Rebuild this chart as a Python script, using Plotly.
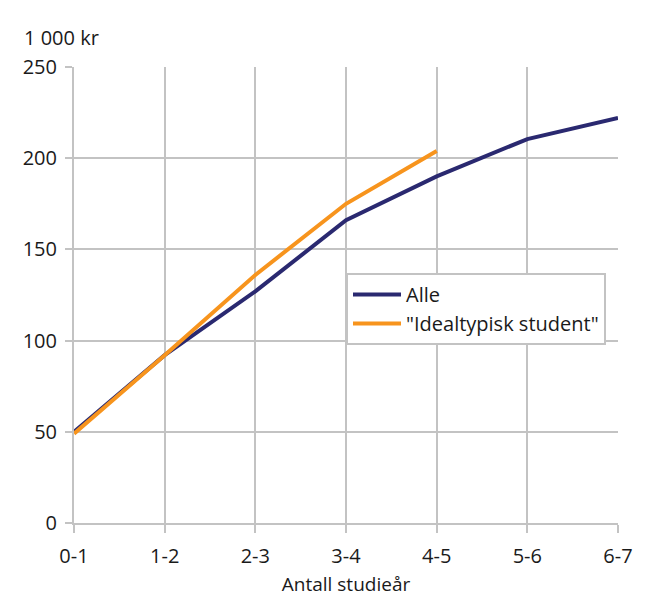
import plotly.graph_objects as go

categories = ["0-1", "1-2", "2-3", "3-4", "4-5", "5-6", "6-7"]
alle = [50, 92, 127, 166, 190, 210.5, 222]
ideal = [49, 92, 136, 175, 204]
y_ticks = [0, 50, 100, 150, 200, 250]

OFF = 8  # default page body margin
W, H = 654 - OFF, 610 - OFF
L, R, T, B = 74 - OFF, 36, 67 - OFF, 87
pw, ph = W - L - R, H - T - B

FONT = "Open Sans"
FS = 19
grid = "#c3c3c3"

fig = go.Figure()
fig.add_trace(go.Scatter(x=categories, y=alle, mode="lines", name="Alle",
                         line=dict(color="#2a2970", width=4)))
fig.add_trace(go.Scatter(x=categories[:len(ideal)], y=ideal, mode="lines",
                         name='"Idealtypisk student"',
                         line=dict(color="#f7941d", width=4)))

fig.update_layout(
    width=W, height=H,
    margin=dict(l=L, r=R, t=T, b=B, pad=0),
    paper_bgcolor="white", plot_bgcolor="white",
    font=dict(family=FONT, size=FS, color="#1a1a1a"),
    showlegend=True,
    legend=dict(x=(346 - 74) / pw, y=(523 - 273) / ph, xanchor="left", yanchor="top",
                bgcolor="white", bordercolor="#c3c3c3", borderwidth=2,
                font=dict(size=FS + 1), tracegroupgap=0, itemwidth=48),
    xaxis=dict(type="category", range=[0, 6], showgrid=True, gridcolor=grid, gridwidth=2,
               showline=True, linecolor=grid, linewidth=2, ticks="outside", ticklen=8,
               tickcolor=grid, tickwidth=2, tickfont=dict(size=FS + 1), ticklabelstandoff=6,
               title=dict(text="Antall studieår", font=dict(size=FS), standoff=10),
               zeroline=False),
    yaxis=dict(range=[0, 250], tickvals=y_ticks, showgrid=True, gridcolor=grid, gridwidth=2,
               showline=True, linecolor=grid, linewidth=2, ticks="outside", ticklen=7,
               tickcolor=grid, tickwidth=2, tickfont=dict(size=FS + 1), ticklabelstandoff=4,
               zeroline=False),
    shapes=[dict(type="line", xref="paper", yref="paper",
                 x0=-(L + OFF) / pw, x1=(W - L) / pw, y0=(523 - 4) / ph, y1=(523 - 4) / ph,
                 line=dict(color="black", width=3))],
    annotations=[dict(text="1 000 kr", xref="paper", yref="paper",
                      x=(22 - 74) / pw, y=(523 - 38) / ph, xanchor="left", yanchor="middle",
                      showarrow=False, font=dict(size=FS + 1))],
)

fig.write_html("out.html")
